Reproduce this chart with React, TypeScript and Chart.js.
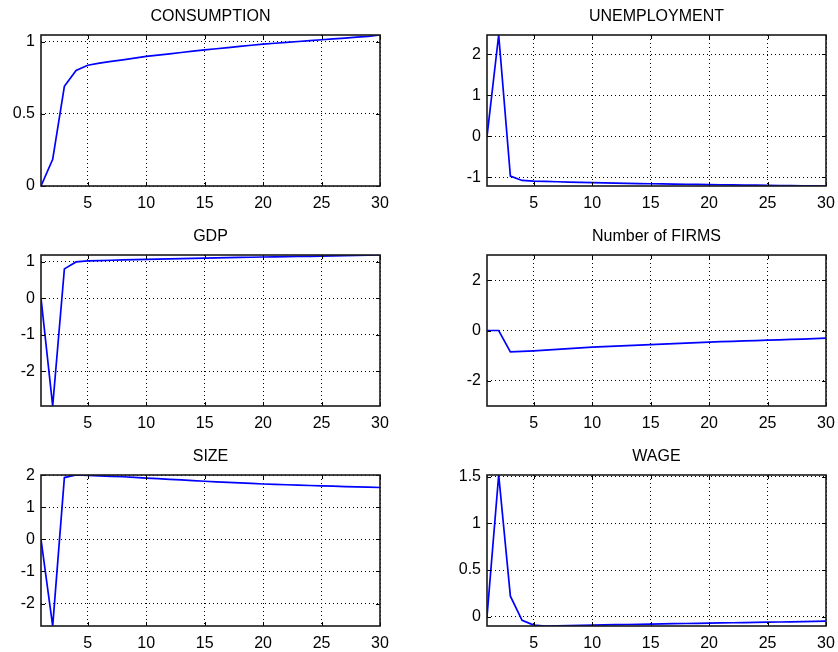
import React, { useEffect, useRef } from "react";
import { Chart, registerables } from "chart.js";

Chart.register(...registerables);

// ---------- data ----------
const periods = [1, 2, 3, 4, 5, 6, 7, 8, 9, 10, 11, 12, 13, 14, 15, 16, 17, 18, 19, 20, 21, 22, 23, 24, 25, 26, 27, 28, 29, 30];
const xTickValues = [5, 10, 15, 20, 25, 30];

const consumption = [0, 0.185, 0.69, 0.80, 0.836, 0.85, 0.862, 0.873, 0.885, 0.897, 0.906, 0.915, 0.924, 0.933, 0.942, 0.95, 0.958, 0.966, 0.974, 0.982, 0.988, 0.994, 1.0, 1.006, 1.012, 1.018, 1.024, 1.03, 1.036, 1.045];
const consumptionTicks = [0, 0.5, 1];

const unemployment = [0, 2.47, -0.97, -1.075, -1.09, -1.098, -1.106, -1.114, -1.122, -1.13, -1.135, -1.14, -1.145, -1.15, -1.155, -1.159, -1.163, -1.167, -1.171, -1.175, -1.179, -1.183, -1.187, -1.191, -1.195, -1.198, -1.201, -1.204, -1.207, -1.21];
const unemploymentTicks = [-1, 0, 1, 2];

const gdp = [0, -2.95, 0.80, 0.99, 1.02, 1.028, 1.036, 1.044, 1.052, 1.06, 1.067, 1.074, 1.081, 1.088, 1.095, 1.101, 1.107, 1.113, 1.119, 1.125, 1.13, 1.135, 1.14, 1.145, 1.15, 1.156, 1.162, 1.168, 1.174, 1.18];
const gdpTicks = [-2, -1, 0, 1];

const firms = [0, 0, -0.85, -0.83, -0.81, -0.78, -0.75, -0.72, -0.69, -0.66, -0.64, -0.62, -0.60, -0.58, -0.56, -0.54, -0.52, -0.50, -0.48, -0.46, -0.445, -0.43, -0.415, -0.40, -0.385, -0.37, -0.355, -0.34, -0.32, -0.30];
const firmsTicks = [-2, 0, 2];
const firmsRange = [-3, 3];

const size = [0, -2.70, 1.93, 2.01, 2.0, 1.985, 1.97, 1.955, 1.935, 1.915, 1.895, 1.875, 1.855, 1.835, 1.815, 1.798, 1.781, 1.764, 1.747, 1.73, 1.718, 1.706, 1.694, 1.682, 1.67, 1.66, 1.65, 1.64, 1.63, 1.62];
const sizeTicks = [-2, -1, 0, 1, 2];

const wage = [0, 1.52, 0.22, -0.04, -0.09, -0.10, -0.099, -0.096, -0.093, -0.09, -0.088, -0.086, -0.084, -0.082, -0.079, -0.077, -0.075, -0.073, -0.071, -0.069, -0.067, -0.065, -0.063, -0.061, -0.059, -0.057, -0.055, -0.053, -0.05, -0.047];
const wageTicks = [0, 0.5, 1, 1.5];

type Panel = { title: string; values: number[]; ticks: number[]; range?: number[] };

const panels: Panel[] = [
  { title: "CONSUMPTION", values: consumption, ticks: consumptionTicks },
  { title: "UNEMPLOYMENT", values: unemployment, ticks: unemploymentTicks },
  { title: "GDP", values: gdp, ticks: gdpTicks },
  { title: "Number of FIRMS", values: firms, ticks: firmsTicks, range: firmsRange },
  { title: "SIZE", values: size, ticks: sizeTicks },
  { title: "WAGE", values: wage, ticks: wageTicks },
];

// ---------- layout / style ----------
const FONT = "'Liberation Sans', Arial, Helvetica, sans-serif";
const CANVAS_W = 421;
const CANVAS_H = 211;
const AXIS_W = 41;
const XAXIS_H = 25;
const COL_LEFT = [0, 446];
const ROW_TOP = [0, 220, 440];

const framePlugin = {
  id: "matlabFrame",
  afterDraw(chart: any) {
    const { ctx, chartArea: a, scales } = chart;
    ctx.save();
    ctx.strokeStyle = "#000";
    ctx.lineWidth = 1;
    const tl = 4;
    ctx.beginPath();
    scales.x.ticks.forEach((t: any) => {
      const px = Math.round(scales.x.getPixelForValue(t.value)) + 0.5;
      ctx.moveTo(px, a.bottom);
      ctx.lineTo(px, a.bottom - tl);
      ctx.moveTo(px, a.top);
      ctx.lineTo(px, a.top + tl);
    });
    scales.y.ticks.forEach((t: any) => {
      const py = Math.round(scales.y.getPixelForValue(t.value)) + 0.5;
      ctx.moveTo(a.left, py);
      ctx.lineTo(a.left + tl, py);
      ctx.moveTo(a.right, py);
      ctx.lineTo(a.right - tl, py);
    });
    ctx.stroke();
    ctx.strokeStyle = "#1a1a1a";
    ctx.lineWidth = 1.6;
    ctx.strokeRect(a.left, a.top, a.right - a.left, a.bottom - a.top);
    ctx.restore();
  },
};

function SubPlot({ panel, left, top }: { panel: Panel; left: number; top: number }) {
  const ref = useRef<HTMLCanvasElement | null>(null);
  useEffect(() => {
    if (!ref.current) return;
    const yMin = panel.range ? panel.range[0] : Math.min(...panel.values);
    const yMax = panel.range ? panel.range[1] : Math.max(...panel.values);
    const chart = new Chart(ref.current, {
      type: "line",
      data: {
        datasets: [
          {
            data: periods.map((p, i) => ({ x: p, y: panel.values[i] })),
            borderColor: "#0000ff",
            borderWidth: 1.7,
            pointRadius: 0,
            tension: 0,
            fill: false,
          },
        ],
      },
      options: {
        animation: false,
        responsive: false,
        devicePixelRatio: 1,
        layout: { padding: 0 },
        plugins: {
          legend: { display: false },
          tooltip: { enabled: false },
          title: {
            display: true,
            text: panel.title,
            color: "#000",
            font: { family: FONT, size: 16, weight: "normal", lineHeight: 1.25 },
            padding: { top: 7, bottom: 8 },
          },
        },
        scales: {
          x: {
            type: "linear",
            min: periods[0],
            max: periods[periods.length - 1],
            afterBuildTicks: (s: any) => {
              s.ticks = xTickValues.map((v) => ({ value: v }));
            },
            afterFit: (s: any) => {
              s.height = XAXIS_H;
            },
            ticks: {
              color: "#000",
              font: { family: FONT, size: 16 },
              padding: 8,
              maxRotation: 0,
              autoSkip: false,
              callback: (v: any) => String(v),
            },
            grid: { color: "#000", lineWidth: 1, drawTicks: false },
            border: { display: false, dash: [1, 3] },
          },
          y: {
            type: "linear",
            position: "left",
            min: yMin,
            max: yMax,
            afterBuildTicks: (s: any) => {
              s.ticks = panel.ticks.map((v) => ({ value: v }));
            },
            afterFit: (s: any) => {
              s.width = AXIS_W;
            },
            ticks: {
              color: "#000",
              font: { family: FONT, size: 16 },
              padding: 6,
              autoSkip: false,
              callback: (v: any) => String(v),
            },
            grid: { color: "#000", lineWidth: 1, drawTicks: false },
            border: { display: false, dash: [1, 3] },
          },
          yRight: {
            type: "linear",
            position: "right",
            display: true,
            afterFit: (s: any) => {
              s.width = AXIS_W;
            },
            ticks: { display: false },
            grid: { display: false, drawTicks: false },
            border: { display: false },
          },
        },
      },
      plugins: [framePlugin],
    } as any);
    return () => chart.destroy();
  }, [panel]);
  return (
    <canvas
      ref={ref}
      width={CANVAS_W}
      height={CANVAS_H}
      style={{ position: "absolute", left, top, width: CANVAS_W, height: CANVAS_H }}
    />
  );
}

export default function App() {
  return (
    <div
      style={{
        position: "fixed",
        left: 0,
        top: 0,
        width: 838,
        height: 652,
        overflow: "hidden",
        background: "#fff",
      }}
    >
      {panels.map((p, i) => (
        <SubPlot key={p.title} panel={p} left={COL_LEFT[i % 2]} top={ROW_TOP[Math.floor(i / 2)]} />
      ))}
    </div>
  );
}
